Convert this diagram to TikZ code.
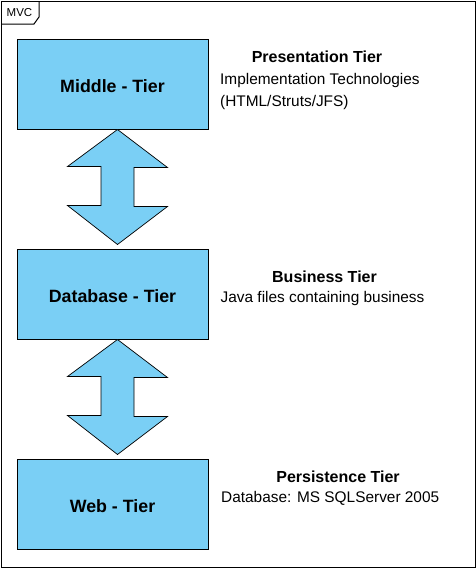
\documentclass[tikz,border=0pt]{standalone}
\usepackage{fontspec}
\setmainfont{Liberation Sans}
\usetikzlibrary{positioning}
\definecolor{tierblue}{RGB}{122,207,245}

\begin{document}
\begin{tikzpicture}[x=1pt, y=-1pt,
  tier/.style={draw=black, line width=1pt, fill=tierblue, minimum width=191pt, minimum height=90pt,
               inner sep=0pt, text height=16pt, text depth=0pt, font=\fontsize{17.8}{19}\selectfont\bfseries},
  head/.style={inner sep=0pt, font=\fontsize{16}{18}\selectfont\bfseries},
  note/.style={inner sep=0pt, anchor=west, font=\fontsize{15.4}{17}\selectfont},
  blockarrow/.style={draw=black, line width=0.7pt, fill=tierblue}
]
\useasboundingbox (0,0) rectangle (476,568);
\draw[line width=1pt] (1,1) rectangle (475,567);
\draw[line width=1pt] (1,24) -- (34,24) -- (39,17) -- (39,1);
\node[inner sep=0pt, font=\fontsize{11.5}{13}\selectfont] (tab) at (19.5,13) {MVC};

\node[tier] (mid) at (112.5,84) {Middle - Tier};
\node[tier] (db) at (112.5,294) {Database - Tier};
\node[tier] (web) at (112.5,504) {Web - Tier};

\node[head] (pres) at (317,56.5) {Presentation Tier};
\node[note] (pres1) at (220,80.5) {Implementation Technologies};
\node[note] (pres2) at (220,102.5) {(HTML/Struts/JFS)};
\node[head] (bus) at (324.5,276.5) {Business Tier};
\node[note] (bus1) at (220.5,298.5) {Java files containing business};
\node[head] (pers) at (338,476.5) {Persistence Tier};
\node[note] (pers1) at (221,498.5) {Database: MS SQLServer 2005};

% double block arrows between the tiers
\draw[blockarrow] ([xshift=5pt]mid.south) -- ++(50,38) -- ++(-33.5,0) -- ++(0,39) -- ++(33.5,0)
  -- ([xshift=5pt,yshift=4pt]db.north) -- ++(-50,-39) -- ++(33.5,0) -- ++(0,-39) -- ++(-33.5,0) -- cycle;
\draw[blockarrow] ([xshift=5pt]db.south) -- ++(50,38) -- ++(-33.5,0) -- ++(0,39) -- ++(33.5,0)
  -- ([xshift=5pt,yshift=4pt]web.north) -- ++(-50,-39) -- ++(33.5,0) -- ++(0,-39) -- ++(-33.5,0) -- cycle;
\end{tikzpicture}
\end{document}
